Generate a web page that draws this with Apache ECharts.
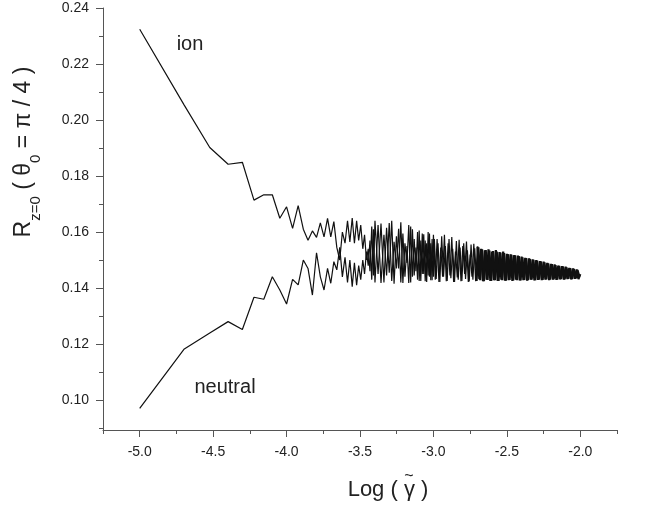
<!DOCTYPE html>
<html>
<head>
<meta charset="utf-8">
<script src="https://cdn.jsdelivr.net/npm/echarts@6/dist/echarts.min.js"></script>
<style>
html,body{margin:0;padding:0;background:#fff;}
#chart{width:668px;height:515px;}
</style>
</head>
<body>
<div id="chart"></div>
<script>
// x = Log(gamma~), common part (both curves)
const xCommon = [
-5.000,-4.699,-4.523,-4.398,-4.301,-4.222,-4.155,-4.097,-4.046,-4.000,
-3.959,-3.921,-3.886,-3.854,-3.824,-3.796,-3.770,-3.745,-3.721,-3.699,
-3.678,-3.658,-3.638,-3.620,-3.602,-3.585,-3.569,-3.553,-3.538,-3.523,
-3.509,-3.495,-3.481,-3.469,-3.456,-3.444,-3.432,-3.420,-3.409,-3.398,
-3.377,-3.357,-3.337,-3.319,-3.301,-3.284,-3.268,-3.252,-3.237,-3.222,
-3.208,-3.194,-3.180,-3.168,-3.155,-3.143,-3.131,-3.119,-3.108,-3.097,
-3.086,-3.076,-3.066,-3.056,-3.046,-3.036,-3.027,-3.018,-3.009,-3.000
];
// dense part, ion samples
const xDenseIon = [
-2.9875,-2.975,-2.9625,-2.95,-2.9375,-2.925,-2.9125,-2.9,-2.8875,-2.875,
-2.8625,-2.85,-2.8375,-2.825,-2.8125,-2.8,-2.7875,-2.775,-2.7625,-2.75,
-2.7375,-2.725,-2.7125,-2.7,-2.6875,-2.675,-2.6625,-2.65,-2.6375,-2.625,
-2.6125,-2.6,-2.5875,-2.575,-2.5625,-2.55,-2.5375,-2.525,-2.5125,-2.5,
-2.4875,-2.475,-2.4625,-2.45,-2.4375,-2.425,-2.4125,-2.4,-2.3875,-2.375,
-2.3625,-2.35,-2.3375,-2.325,-2.3125,-2.3,-2.2875,-2.275,-2.2625,-2.25,
-2.2375,-2.225,-2.2125,-2.2,-2.1875,-2.175,-2.1625,-2.15,-2.1375,-2.125,
-2.1125,-2.1,-2.0875,-2.075,-2.0625,-2.05,-2.0375,-2.025,-2.0125,-2.0
];
// dense part, neutral samples
const xDenseNeutral = [
-2.99375,-2.98125,-2.96875,-2.95625,-2.94375,-2.93125,-2.91875,-2.90625,-2.89375,-2.88125,
-2.86875,-2.85625,-2.84375,-2.83125,-2.81875,-2.80625,-2.79375,-2.78125,-2.76875,-2.75625,
-2.74375,-2.73125,-2.71875,-2.70625,-2.69375,-2.68125,-2.66875,-2.65625,-2.64375,-2.63125,
-2.61875,-2.60625,-2.59375,-2.58125,-2.56875,-2.55625,-2.54375,-2.53125,-2.51875,-2.50625,
-2.49375,-2.48125,-2.46875,-2.45625,-2.44375,-2.43125,-2.41875,-2.40625,-2.39375,-2.38125,
-2.36875,-2.35625,-2.34375,-2.33125,-2.31875,-2.30625,-2.29375,-2.28125,-2.26875,-2.25625,
-2.24375,-2.23125,-2.21875,-2.20625,-2.19375,-2.18125,-2.16875,-2.15625,-2.14375,-2.13125,
-2.11875,-2.10625,-2.09375,-2.08125,-2.06875,-2.05625,-2.04375,-2.03125,-2.01875,-2.00625
];

const ionVals = [
0.2324,0.2055,0.1902,0.1842,0.1849,0.1714,0.1733,0.1733,0.1649,0.1690,
0.1613,0.1694,0.1610,0.1571,0.1604,0.1581,0.1633,0.1583,0.1649,0.1583,
0.1637,0.1545,0.1500,0.1600,0.1560,0.1640,0.1565,0.1650,0.1560,0.1640,
0.1570,0.1625,0.1540,0.1590,0.1500,0.1540,0.1460,0.1620,0.1445,0.1640,
0.1450,0.1630,0.1420,0.1615,0.1455,0.1640,0.1415,0.1585,0.1470,0.1635,
0.1418,0.1560,0.1490,0.1625,0.1420,0.1610,0.1445,0.1545,0.1430,0.1605,
0.1425,0.1595,0.1450,0.1570,0.1422,0.1600,0.1440,0.1560,0.1428,0.1590,
0.1430,0.1575,0.1422,0.1545,0.1440,0.1590,0.1424,0.1560,0.1445,0.1582,
0.1422,0.1530,0.1438,0.1572,0.1424,0.1550,0.1450,0.1566,0.1422,0.1520,
0.1440,0.1558,0.1424,0.1548,0.1432,0.1540,0.1424,0.1535,0.1430,0.1538,
0.1425,0.1530,0.1428,0.1536,0.1425,0.1528,0.1430,0.1530,0.1426,0.1522,
0.1428,0.1520,0.1425,0.1518,0.1430,0.1516,0.1427,0.1512,0.1428,0.1508,
0.1426,0.1506,0.1430,0.1502,0.1427,0.1500,0.1429,0.1496,0.1428,0.1494,
0.1430,0.1490,0.1428,0.1486,0.1430,0.1484,0.1429,0.1480,0.1431,0.1478,
0.1430,0.1476,0.1432,0.1472,0.1431,0.1470,0.1433,0.1466,0.1432,0.1450
];

const neutralVals = [
0.0970,0.1181,0.1239,0.1280,0.1252,0.1367,0.1360,0.1440,0.1393,0.1343,
0.1431,0.1411,0.1500,0.1470,0.1375,0.1526,0.1440,0.1393,0.1470,0.1417,
0.1494,0.1465,0.1545,0.1440,0.1510,0.1420,0.1500,0.1405,0.1490,0.1410,
0.1480,0.1430,0.1500,0.1450,0.1530,0.1480,0.1570,0.1430,0.1610,0.1420,
0.1625,0.1418,0.1590,0.1445,0.1632,0.1425,0.1565,0.1470,0.1612,0.1420,
0.1595,0.1440,0.1550,0.1418,0.1620,0.1440,0.1575,0.1460,0.1600,0.1425,
0.1570,0.1450,0.1592,0.1424,0.1560,0.1445,0.1595,0.1428,0.1575,0.1440,
0.1575,0.1432,0.1560,0.1422,0.1585,0.1440,0.1550,0.1425,0.1575,0.1435,
0.1540,0.1422,0.1568,0.1430,0.1545,0.1425,0.1560,0.1432,0.1535,0.1423,
0.1555,0.1430,0.1542,0.1425,0.1545,0.1428,0.1538,0.1424,0.1536,0.1429,
0.1534,0.1425,0.1532,0.1428,0.1530,0.1425,0.1527,0.1428,0.1525,0.1426,
0.1521,0.1429,0.1519,0.1427,0.1517,0.1428,0.1514,0.1427,0.1510,0.1429,
0.1507,0.1428,0.1504,0.1430,0.1501,0.1428,0.1498,0.1430,0.1495,0.1429,
0.1492,0.1431,0.1488,0.1430,0.1485,0.1431,0.1482,0.1430,0.1479,0.1432,
0.1477,0.1431,0.1474,0.1433,0.1471,0.1432,0.1468,0.1434,0.1464,0.1440
];

// index where the curves become an unresolved dense band (x ≈ -2.7)
const DENSE_FROM = 93;

const xMajorTicks = [-5.0,-4.5,-4.0,-3.5,-3.0,-2.5,-2.0];
const xMinorTicks = [-5.25,-4.75,-4.25,-3.75,-3.25,-2.75,-2.25,-1.75];
const yMajorTicks = [0.10,0.12,0.14,0.16,0.18,0.20,0.22,0.24];
const yMinorTicks = [0.09,0.11,0.13,0.15,0.17,0.19,0.21,0.23];

const FONT = '"Liberation Sans", Arial, sans-serif';
const AXIS_COLOR = '#555';
const TEXT_COLOR = '#222';
const LINE_COLOR = '#111';

const ionX = xCommon.concat(xDenseIon);
const neutralX = xCommon.concat(xDenseNeutral);
const ionData = ionX.map((x, i) => [x, ionVals[i]]);
const neutralData = neutralX.map((x, i) => [x, neutralVals[i]]);

function lineSeries(name, data, width) {
  return {
    name: name, type: 'line', xAxisIndex: 0, yAxisIndex: 0,
    data: data, showSymbol: false, symbol: 'none',
    lineStyle: {color: LINE_COLOR, width: width}, silent: true
  };
}

const chart = echarts.init(document.getElementById('chart'), null, {renderer: 'canvas'});

const xBase = {type: 'value', min: -5.25, max: -1.75, gridIndex: 0, splitLine: {show: false}};
const yBase = {type: 'value', min: 0.0893, max: 0.24, gridIndex: 0, splitLine: {show: false}};

chart.setOption({
  animation: false,
  backgroundColor: '#fff',
  grid: {left: 103, right: 51, top: 8, bottom: 85, containLabel: false},
  xAxis: [
    Object.assign({}, xBase, {
      position: 'bottom',
      axisLine: {show: true, lineStyle: {color: AXIS_COLOR, width: 1}},
      axisTick: {show: true, inside: false, length: 7, lineStyle: {color: AXIS_COLOR}, customValues: xMajorTicks},
      axisLabel: {show: true, margin: 15, fontSize: 14, fontFamily: FONT, color: TEXT_COLOR,
        customValues: xMajorTicks, formatter: v => v.toFixed(1)}
    }),
    Object.assign({}, xBase, {
      position: 'bottom',
      axisLine: {show: false},
      axisTick: {show: true, inside: false, length: 4, lineStyle: {color: AXIS_COLOR}, customValues: xMinorTicks},
      axisLabel: {show: false}
    })
  ],
  yAxis: [
    Object.assign({}, yBase, {
      position: 'left',
      axisLine: {show: true, lineStyle: {color: AXIS_COLOR, width: 1}},
      axisTick: {show: true, inside: false, length: 7, lineStyle: {color: AXIS_COLOR}, customValues: yMajorTicks},
      axisLabel: {show: true, margin: 14, fontSize: 14, fontFamily: FONT, color: TEXT_COLOR,
        customValues: yMajorTicks, formatter: v => v.toFixed(2)}
    }),
    Object.assign({}, yBase, {
      position: 'left',
      offset: 0,
      axisLine: {show: false},
      axisTick: {show: true, inside: false, length: 4, lineStyle: {color: AXIS_COLOR}, customValues: yMinorTicks},
      axisLabel: {show: false}
    })
  ],
  graphic: [
    {
      type: 'text', x: 26, y: 152, rotation: Math.PI / 2,
      style: {
        text: '{m|R}{s|z=0}{m| ( θ}{s|0}{m| = π / 4 )}',
        align: 'center', verticalAlign: 'middle',
        fill: TEXT_COLOR,
        rich: {
          m: {fontSize: 23, fontFamily: FONT, fill: TEXT_COLOR, lineHeight: 27, verticalAlign: 'top'},
          s: {fontSize: 15, fontFamily: FONT, fill: TEXT_COLOR, lineHeight: 15, verticalAlign: 'top', padding: [16, 0, 0, 0]}
        }
      }
    },
    {
      type: 'text', x: 388, y: 490,
      style: {text: 'Log ( γ )', fontSize: 22, fontFamily: FONT, fill: TEXT_COLOR, align: 'center', verticalAlign: 'middle'}
    },
    {
      type: 'text', x: 409, y: 477,
      style: {text: '~', fontSize: 16, fontFamily: FONT, fill: TEXT_COLOR, align: 'center', verticalAlign: 'middle'}
    },
    {
      type: 'text', x: 190, y: 44,
      style: {text: 'ion', fontSize: 20, fontFamily: FONT, fill: TEXT_COLOR, align: 'center', verticalAlign: 'middle'}
    },
    {
      type: 'text', x: 225, y: 387,
      style: {text: 'neutral', fontSize: 20, fontFamily: FONT, fill: TEXT_COLOR, align: 'center', verticalAlign: 'middle'}
    }
  ],
  series: [
    lineSeries('ion', ionData.slice(0, DENSE_FROM + 1), 1.2),
    lineSeries('neutral', neutralData.slice(0, DENSE_FROM + 1), 1.2),
    lineSeries('ion', ionData.slice(DENSE_FROM), 2.2),
    lineSeries('neutral', neutralData.slice(DENSE_FROM), 2.2)
  ]
});
</script>
</body>
</html>
